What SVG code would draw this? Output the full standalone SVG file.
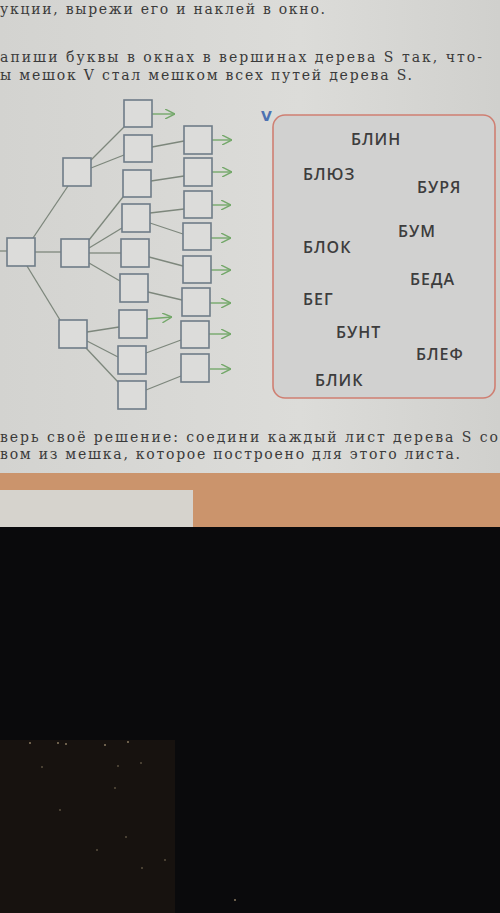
<svg xmlns="http://www.w3.org/2000/svg" width="500" height="913" viewBox="0 0 500 913">
<defs>
<style>
.txt{font-family:"DejaVu Serif","Liberation Serif",serif;font-size:14px;fill:#3b3b3b}
.box{fill:#dcdcda;stroke:#6f7c88;stroke-width:1.6}
.ln{stroke:#7d877c;stroke-width:1.3;fill:none}
.ar{stroke:#74a86a;stroke-width:1.4;fill:none;marker-end:url(#chev)}
.w{font-family:"Open Sans","DejaVu Sans",sans-serif;font-weight:600;font-size:16px;fill:#3d3d3d;letter-spacing:1px}
</style>
<marker id="chev" viewBox="0 0 10 10" refX="10" refY="5" markerWidth="10" markerHeight="10" markerUnits="userSpaceOnUse" orient="auto">
<path d="M0,0 L10,5 L0,10" fill="none" stroke="#74a86a" stroke-width="1.4"/>
</marker>
<linearGradient id="pg" x1="0" y1="0" x2="1" y2="0">
<stop offset="0" stop-color="#d3d3d0"/>
<stop offset="0.6" stop-color="#dcdcd9"/>
<stop offset="1" stop-color="#d0d0cd"/>
</linearGradient>
</defs>
<rect x="0" y="0" width="500" height="913" fill="#0a0a0c"/>
<rect x="0" y="0" width="500" height="475" fill="url(#pg)"/>
<rect x="0" y="473" width="500" height="54" fill="#cb946c"/>
<rect x="0" y="490" width="193" height="37" fill="#d6d3cd"/>
<rect x="0" y="740" width="175" height="173" fill="#17120f"/>
<g fill="#8a7a60">
<circle cx="30" cy="743" r="1"/><circle cx="58" cy="743" r="1"/><circle cx="66" cy="744" r="1"/><circle cx="105" cy="745" r="1"/><circle cx="128" cy="742" r="1"/><circle cx="42" cy="767" r="0.8"/><circle cx="118" cy="766" r="0.8"/><circle cx="141" cy="763" r="0.8"/><circle cx="115" cy="788" r="0.8"/><circle cx="60" cy="810" r="0.8"/><circle cx="126" cy="837" r="0.8"/><circle cx="97" cy="850" r="0.8"/><circle cx="142" cy="868" r="0.8"/><circle cx="165" cy="860" r="0.8"/><circle cx="235" cy="900" r="1"/>
</g>

<text class="txt" x="0" y="14" textLength="325" lengthAdjust="spacing">укции, вырежи его и наклей в окно.</text>
<text class="txt" x="0" y="62" textLength="482" lengthAdjust="spacing">апиши буквы в окнах в вершинах дерева S так, что-</text>
<text class="txt" x="0" y="80" textLength="412" lengthAdjust="spacing">ы мешок V стал мешком всех путей дерева S.</text>
<text class="txt" x="0" y="442" textLength="498" lengthAdjust="spacing">верь своё решение: соедини каждый лист дерева S со</text>
<text class="txt" x="0" y="459" textLength="460" lengthAdjust="spacing">вом из мешка, которое построено для этого листа.</text>

<g id="connectors">
<line class="ln" x1="0" y1="251" x2="7" y2="251"/>
<line class="ln" x1="33" y1="238" x2="68" y2="186"/>
<line class="ln" x1="35" y1="252" x2="61" y2="252"/>
<line class="ln" x1="27" y1="266" x2="60" y2="320"/>
<line class="ln" x1="91" y1="160" x2="124" y2="127"/>
<line class="ln" x1="91" y1="168" x2="124" y2="155"/>
<line class="ln" x1="152" y1="147" x2="184" y2="141"/>
<line class="ln" x1="89" y1="240" x2="123" y2="197"/>
<line class="ln" x1="89" y1="248" x2="122" y2="228"/>
<line class="ln" x1="89" y1="253" x2="121" y2="253"/>
<line class="ln" x1="89" y1="263" x2="120" y2="281"/>
<line class="ln" x1="151" y1="181" x2="184" y2="176"/>
<line class="ln" x1="150" y1="213" x2="184" y2="209"/>
<line class="ln" x1="150" y1="223" x2="183" y2="234"/>
<line class="ln" x1="149" y1="257" x2="183" y2="266"/>
<line class="ln" x1="148" y1="292" x2="182" y2="300"/>
<line class="ln" x1="87" y1="332" x2="119" y2="327"/>
<line class="ln" x1="87" y1="341" x2="118" y2="357"/>
<line class="ln" x1="86" y1="348" x2="118" y2="382"/>
<line class="ln" x1="146" y1="353" x2="181" y2="340"/>
<line class="ln" x1="146" y1="390" x2="181" y2="376"/>
<line class="ar" x1="152" y1="114" x2="175" y2="114"/>
<line class="ar" x1="147" y1="319" x2="172" y2="317"/>
<line class="ar" x1="212" y1="140" x2="232" y2="140"/>
<line class="ar" x1="212" y1="172" x2="232" y2="172"/>
<line class="ar" x1="212" y1="205" x2="231" y2="205"/>
<line class="ar" x1="211" y1="238" x2="231" y2="238"/>
<line class="ar" x1="211" y1="270" x2="231" y2="270"/>
<line class="ar" x1="210" y1="303" x2="231" y2="303"/>
<line class="ar" x1="209" y1="334" x2="231" y2="334"/>
<line class="ar" x1="210" y1="369" x2="231" y2="369"/>
</g>

<g id="root"><rect class="box" x="7" y="238" width="28" height="28"/></g>
<g id="n-a"><rect class="box" x="63" y="158" width="28" height="28"/></g>
<g id="n-b"><rect class="box" x="61" y="239" width="28" height="28"/></g>
<g id="n-c"><rect class="box" x="59" y="320" width="28" height="28"/></g>
<g id="c1"><rect class="box" x="124" y="100" width="28" height="27"/></g>
<g id="c2"><rect class="box" x="124" y="135" width="28" height="27"/></g>
<g id="c3"><rect class="box" x="123" y="170" width="28" height="27"/></g>
<g id="c4"><rect class="box" x="122" y="204" width="28" height="28"/></g>
<g id="c5"><rect class="box" x="121" y="239" width="28" height="28"/></g>
<g id="c6"><rect class="box" x="120" y="274" width="28" height="28"/></g>
<g id="c7"><rect class="box" x="119" y="310" width="28" height="28"/></g>
<g id="c8"><rect class="box" x="118" y="346" width="28" height="28"/></g>
<g id="c9"><rect class="box" x="118" y="381" width="28" height="28"/></g>
<g id="d1"><rect class="box" x="184" y="126" width="28" height="28"/></g>
<g id="d2"><rect class="box" x="184" y="158" width="28" height="28"/></g>
<g id="d3"><rect class="box" x="184" y="191" width="28" height="27"/></g>
<g id="d4"><rect class="box" x="183" y="223" width="28" height="27"/></g>
<g id="d5"><rect class="box" x="183" y="256" width="28" height="27"/></g>
<g id="d6"><rect class="box" x="182" y="288" width="28" height="28"/></g>
<g id="d7"><rect class="box" x="181" y="321" width="28" height="27"/></g>
<g id="d8"><rect class="box" x="181" y="354" width="28" height="28"/></g>

<g id="bag">
<text x="261" y="121" font-family="'DejaVu Sans',sans-serif" font-weight="bold" font-size="14" fill="#4d72b2">V</text>
<rect x="273" y="115" width="222" height="283" rx="12" fill="#d1d1d0" stroke="#cf7f72" stroke-width="1.6"/>
<text class="w" x="351" y="145">БЛИН</text>
<text class="w" x="303" y="180">БЛЮЗ</text>
<text class="w" x="417" y="193">БУРЯ</text>
<text class="w" x="398" y="237">БУМ</text>
<text class="w" x="303" y="253">БЛОК</text>
<text class="w" x="410" y="285">БЕДА</text>
<text class="w" x="303" y="305">БЕГ</text>
<text class="w" x="336" y="338">БУНТ</text>
<text class="w" x="416" y="360">БЛЕФ</text>
<text class="w" x="315" y="386">БЛИК</text>
</g>
</svg>
